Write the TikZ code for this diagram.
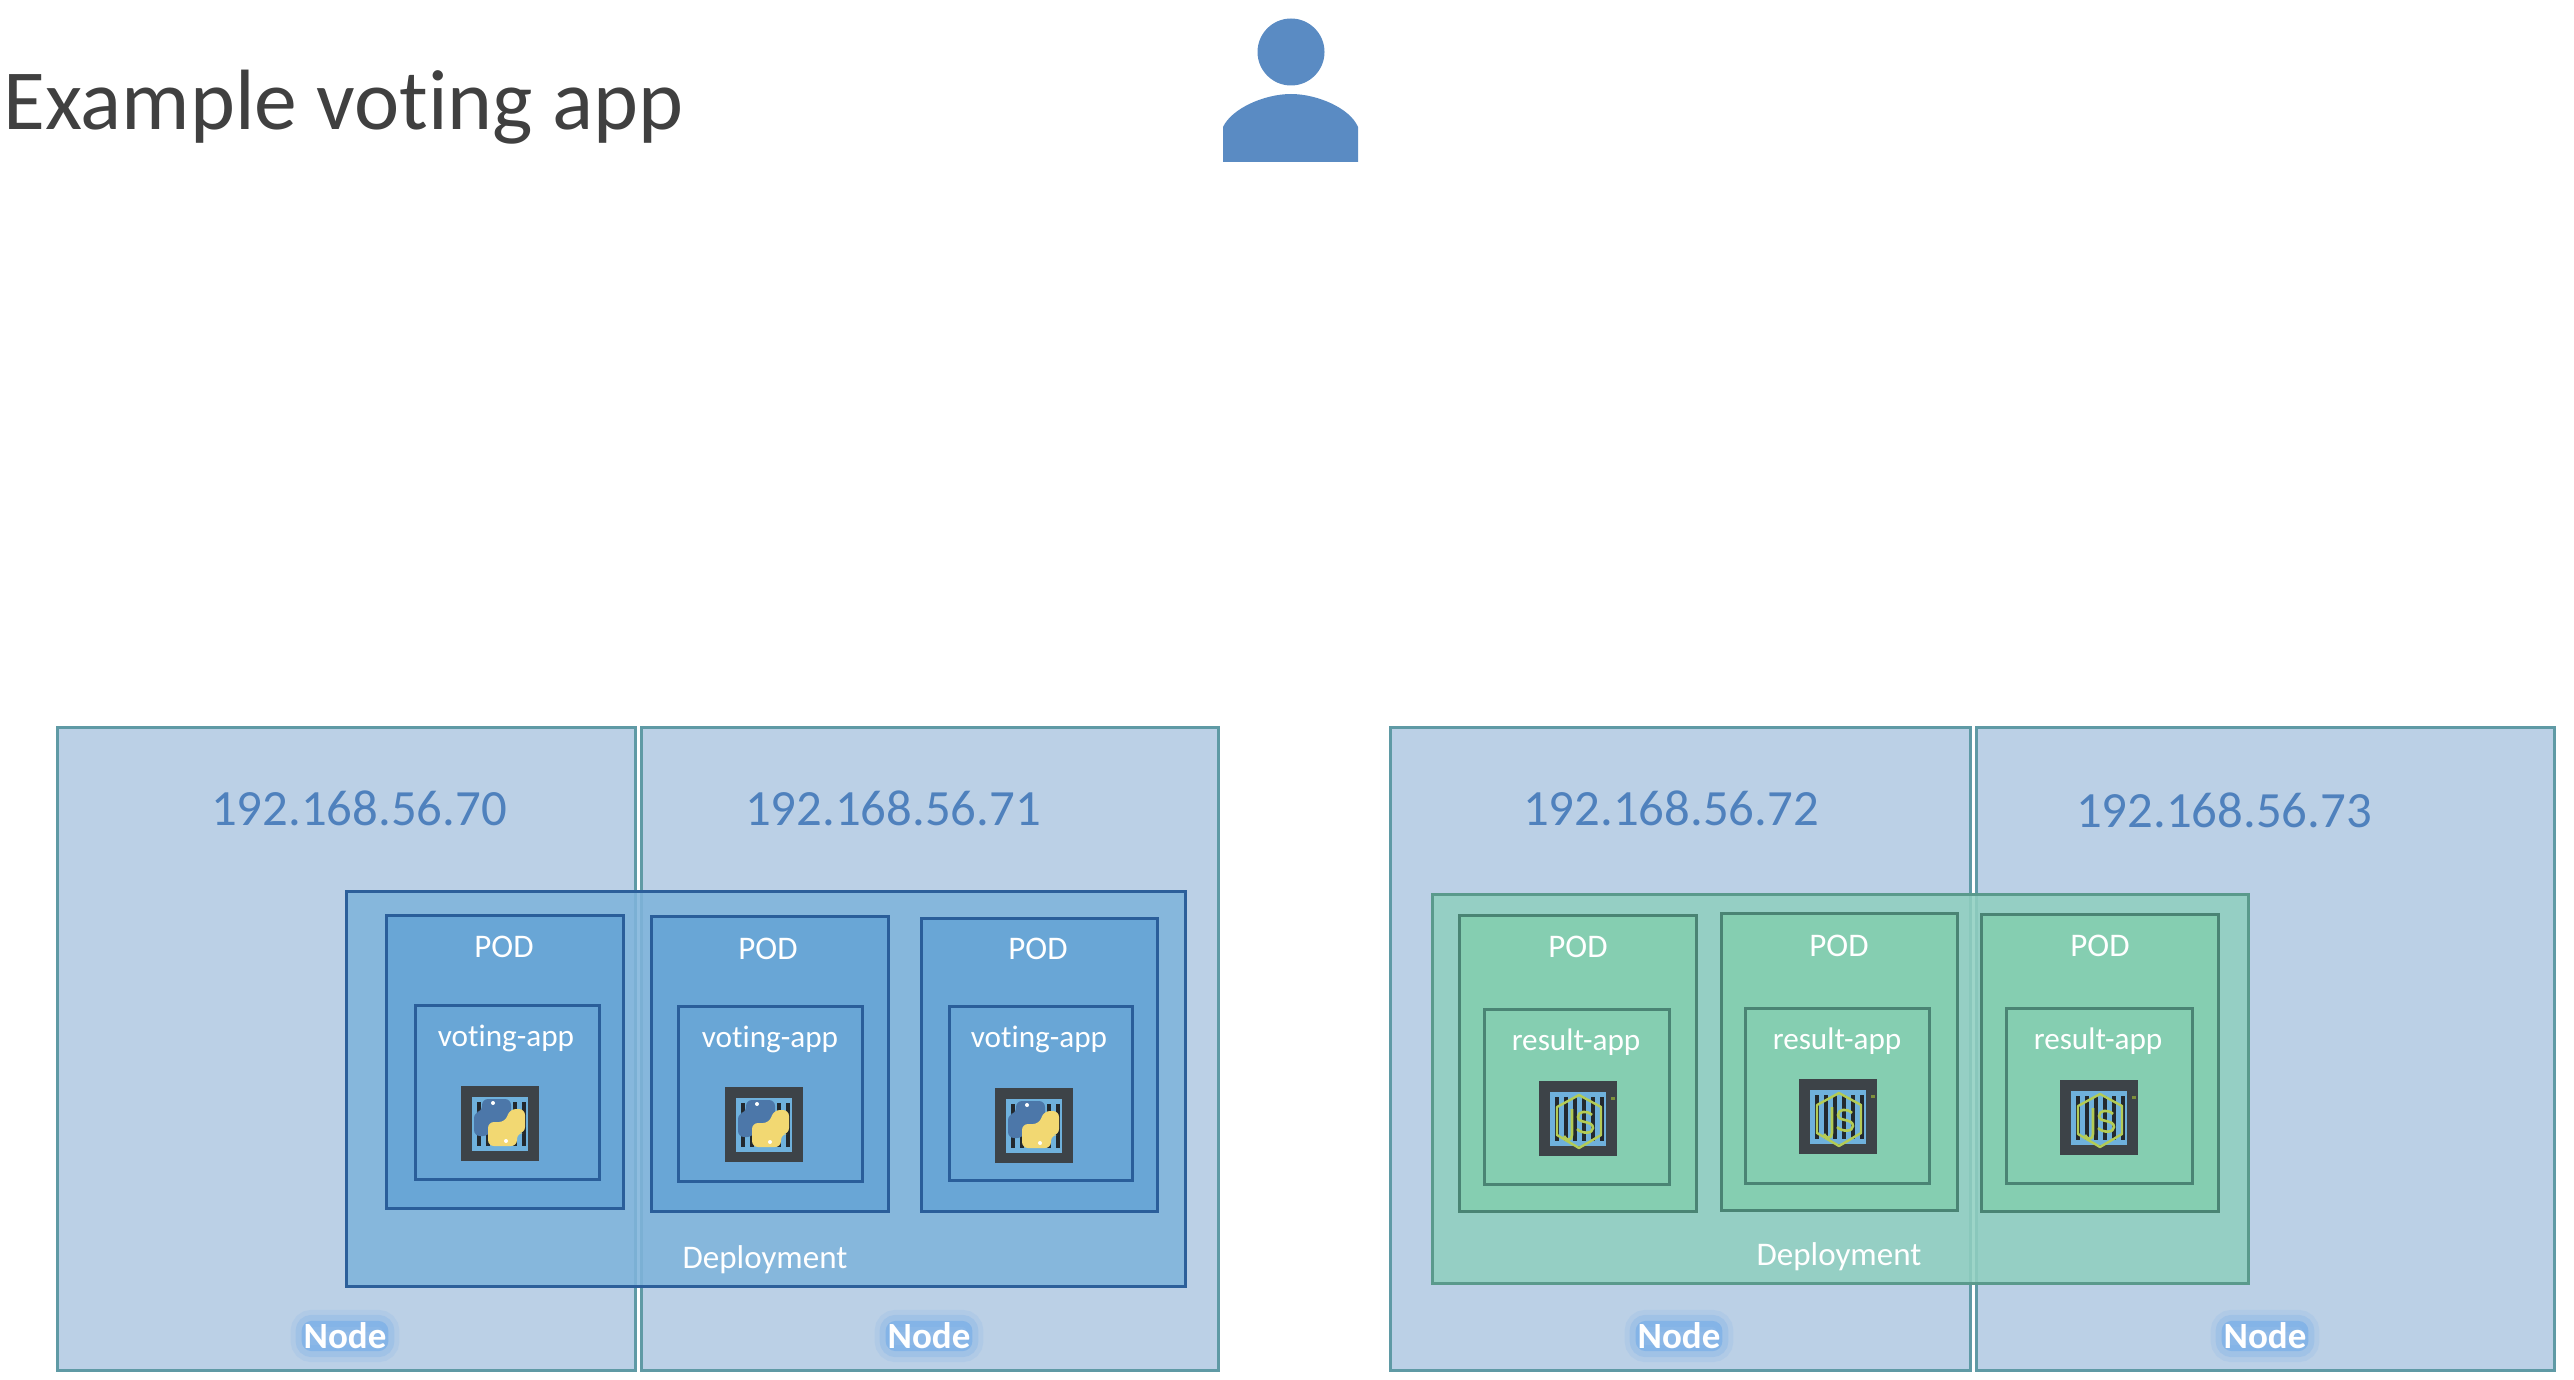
\documentclass[tikz,border=0pt]{standalone}
\usepackage{fontspec}
\setmainfont[Ligatures=NoCommon]{Carlito}
\usetikzlibrary{calc,positioning,fit}
\definecolor{nodefill}{HTML}{BBD0E6}
\definecolor{nodeline}{HTML}{5F9AA5}
\definecolor{bluedep}{HTML}{7FB4DB}
\definecolor{bluedepline}{HTML}{2C5F9A}
\definecolor{bluepod}{HTML}{69A6D6}
\definecolor{bluepodline}{HTML}{2A5E9A}
\definecolor{greendep}{HTML}{90CFC0}
\definecolor{greendepline}{HTML}{5A9A8C}
\definecolor{greenpod}{HTML}{85CEB1}
\definecolor{greenpodline}{HTML}{4A8474}
\definecolor{ipblue}{HTML}{4F81BD}
\definecolor{personblue}{HTML}{5A8BC3}
\definecolor{icondark}{HTML}{3D4348}
\definecolor{iconbar}{HTML}{23292E}
\definecolor{iconblue}{HTML}{6FB1DC}
\definecolor{glowblue}{HTML}{72ABE8}
\definecolor{jsgreen}{HTML}{B4CC55}
\definecolor{pyblue}{HTML}{4C77A9}
\definecolor{pyyellow}{HTML}{F2D872}
\tikzset{
  nodebox/.style={draw=nodeline, fill=nodefill, line width=1.5pt, inner sep=0pt},
  bluedeploy/.style={draw=bluedepline, fill=bluedep, fill opacity=0.88, line width=1.5pt, inner sep=0pt},
  bluebox/.style={draw=bluepodline, fill=bluepod, line width=1.5pt, inner sep=0pt},
  greendeploy/.style={draw=greendepline, fill=greendep, fill opacity=0.88, line width=1.5pt, inner sep=0pt},
  greenbox/.style={draw=greenpodline, fill=greenpod, line width=1.5pt, inner sep=0pt},
  iplabel/.style={text=ipblue, font=\fontsize{25.4}{30}\selectfont, inner sep=0pt},
  podlabel/.style={text=white, font=\fontsize{16.5}{20}\selectfont, inner sep=0pt},
  applabel/.style={text=white, font=\fontsize{15.6}{20}\selectfont, inner sep=0pt},
  nodelabel/.style={text=white, font=\fontsize{18.5}{22}\selectfont\bfseries, inner sep=1pt,
    rounded corners=5pt, fill=glowblue, fill opacity=0.6, text opacity=1,
    preaction={draw=glowblue, line width=11pt, draw opacity=0.14},
    preaction={draw=glowblue, line width=6pt, draw opacity=0.25}},
  imgbars/.pic={
    \fill[icondark] (0,0) rectangle (78,75);
    \fill[iconblue] (11,11) rectangle (67,65);
    \foreach \i in {16,25,...,62} \fill[iconbar] (\i,16) rectangle ++(3.5,44);
  },
  pyicon/.pic={
    \pic {imgbars};
    \fill[pyblue, rounded corners=3pt] (21,13) -- (50,13) -- (50,37) -- (33,37) -- (28,50) -- (13,50) -- (13,26) -- (21,26) -- cycle;
    \fill[pyyellow, rounded corners=3pt] (56,60) -- (27,60) -- (27,36) -- (44,36) -- (49,23) -- (64,23) -- (64,47) -- (56,47) -- cycle;
    \fill[white] (32,17) circle (2) (45,55) circle (2);
  },
  jsicon/.pic={
    \pic {imgbars};
    \draw[jsgreen, line width=1.2pt, line join=round] (40,14) -- (62,26) -- (62,54) -- (40,67) -- (18,54) -- (18,26) -- cycle;
    \draw[jsgreen, line width=1.3pt] (33,28) -- (33,54) .. controls (33,60) and (27,60) .. (25,55);
    \draw[jsgreen, line width=1.3pt] (53,34) .. controls (48,29) and (39,30) .. (39,36) .. controls (39,43) and (54,39) .. (54,47) .. controls (54,53) and (43,53) .. (38,48);
    \fill[jsgreen!70!black] (72,16) rectangle ++(4,3);
  }
}
\begin{document}
\begin{tikzpicture}[x=0.5pt, y=-0.5pt]
  \useasboundingbox (0,0) rectangle (2574,1380);

  % title and user
  \node[anchor=west, text=black!75, inner sep=0pt, font=\fontsize{42.8}{50}\selectfont] at (3,107) (title) {Example voting app};
  \node[circle, fill=personblue, minimum size=33.5pt, inner sep=0pt] at (1291,52) (head) {};
  \fill[personblue] (1223,162) -- (1223,127) .. controls (1232,108) and (1265,94) .. (1291,94) .. controls (1317,94) and (1350,108) .. (1358,127) -- (1358,162) -- cycle;

  % kubernetes nodes
  \foreach \name/\xa/\xb in {nodeA/57/635, nodeB/641/1218, nodeC/1390/1970, nodeD/1976/2554}
    \node[nodebox, fit={(\xa,727) (\xb,1370)}] (\name) {};

  % deployments
  \node[bluedeploy, fit={(346,891) (1185,1286)}] (votedeploy) {};
  \node[greendeploy, fit={(1432,894) (2248,1283)}] (resultdeploy) {};

  % pods of the voting app
  \foreach \name/\xa/\xb/\ya/\yb in {votepodA/386/623/915/1208, votepodB/651/888/916/1211, votepodC/921/1157/918/1211}
    \node[bluebox, fit={(\xa,\ya) (\xb,\yb)}] (\name) {};
  \foreach \name/\xa/\xb/\ya/\yb in {voteappA/415/599/1005/1179, voteappB/678/862/1006/1181, voteappC/949/1132/1006/1180}
    \node[bluebox, fit={(\xa,\ya) (\xb,\yb)}] (\name) {};

  % pods of the result app
  \foreach \name/\xa/\xb/\ya/\yb in {resultpodA/1459/1696/915/1211, resultpodB/1721/1957/913/1210, resultpodC/1981/2218/914/1211}
    \node[greenbox, fit={(\xa,\ya) (\xb,\yb)}] (\name) {};
  \foreach \name/\xa/\xb/\ya/\yb in {resultappA/1484/1669/1009/1184, resultappB/1745/1929/1008/1183, resultappC/2006/2192/1008/1183}
    \node[greenbox, fit={(\xa,\ya) (\xb,\yb)}] (\name) {};

  % images
  \pic at (461,1086) {pyicon};
  \pic at (725,1087) {pyicon};
  \pic at (995,1088) {pyicon};
  \pic at (1539,1081) {jsicon};
  \pic at (1799,1079) {jsicon};
  \pic at (2060,1080) {jsicon};

  % labels
  \foreach \name/\x/\y/\ip in {ipA/359/808/192.168.56.70, ipB/893/808/192.168.56.71, ipC/1671/808/192.168.56.72, ipD/2224/810/192.168.56.73}
    \node[iplabel] at (\x,\y) (\name) {\ip};
  \foreach \name/\x/\y in {podtextA/504/947, podtextB/768/949, podtextC/1038/949, podtextD/1578/947, podtextE/1839/946, podtextF/2100/946}
    \node[podlabel] at (\x,\y) (\name) {POD};
  \foreach \name/\x/\y in {votetextA/506/1038, votetextB/770/1039, votetextC/1039/1039}
    \node[applabel] at (\x,\y) (\name) {voting-app};
  \foreach \name/\x/\y in {resulttextA/1576/1042, resulttextB/1837/1041, resulttextC/2098/1041}
    \node[applabel] at (\x,\y) (\name) {result-app};
  \node[podlabel] at (765,1260) (votedeploytext) {Deployment};
  \node[podlabel] at (1839,1257) (resultdeploytext) {Deployment};
  \foreach \name/\x in {nodetextA/345, nodetextB/929, nodetextC/1679, nodetextD/2265}
    \node[nodelabel] at (\x,1336) (\name) {Node};
\end{tikzpicture}
\end{document}
